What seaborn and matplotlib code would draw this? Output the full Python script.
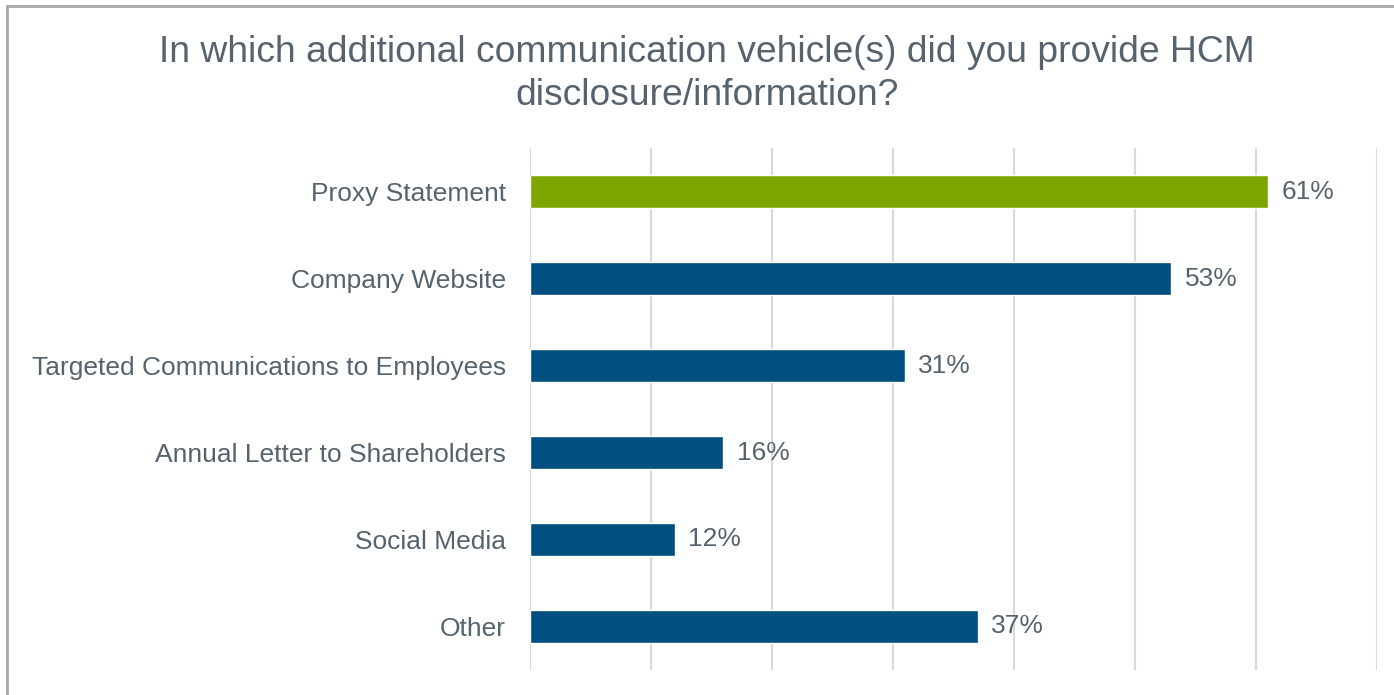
import matplotlib
matplotlib.use("Agg")
import matplotlib.pyplot as plt
import seaborn as sns
import pandas as pd
from matplotlib.patches import Rectangle

categories = ["Proxy Statement", "Company Website", "Targeted Communications to Employees",
              "Annual Letter to Shareholders", "Social Media", "Other"]
values = [61, 53, 31, 16, 12, 37]
bar_colors = ["#7FA500", "#004F7F", "#004F7F", "#004F7F", "#004F7F", "#004F7F"]
title = "In which additional communication vehicle(s) did you provide HCM\ndisclosure/information?"

sns.set_theme(style="white")
plt.rcParams['font.family'] = ['Liberation Sans', 'DejaVu Sans']
text_color = "#56636E"

df = pd.DataFrame({"category": categories, "value": values})

fig = plt.figure(figsize=(13.94, 6.95), dpi=100)
ax = fig.add_axes([0.380, 0.036, 0.608, 0.751])

sns.barplot(data=df, y="category", x="value", hue="category", palette=bar_colors,
            legend=False, width=0.37, ax=ax, saturation=1)

ax.set_xlim(0, 70)
ax.set_xticks(range(0, 71, 10))
ax.xaxis.grid(True, color="#D9D9D9", linewidth=1.5)
ax.set_axisbelow(True)
ax.tick_params(axis="x", length=0, labelbottom=False)
ax.tick_params(axis="y", length=0, pad=17, labelsize=19, labelcolor=text_color)
for s in ax.spines.values():
    s.set_visible(False)
ax.set_xlabel("")
ax.set_ylabel("")

# value labels next to the bars
for i, v in enumerate(values):
    ax.text(v + 1.1, i, f"{v}%", va="center", ha="left", fontsize=19, color=text_color)

fig.text(0.507, 0.95, title, ha="center", va="top", fontsize=26.8, color=text_color,
         linespacing=1.3)

# grey frame, cut off at right and bottom like the source
fig.patches.append(Rectangle((0.005, -0.1), 1.2, 1.091, transform=fig.transFigure,
                             fill=False, edgecolor="#A6A6A6", linewidth=2))

fig.savefig("out.png", dpi=100)
